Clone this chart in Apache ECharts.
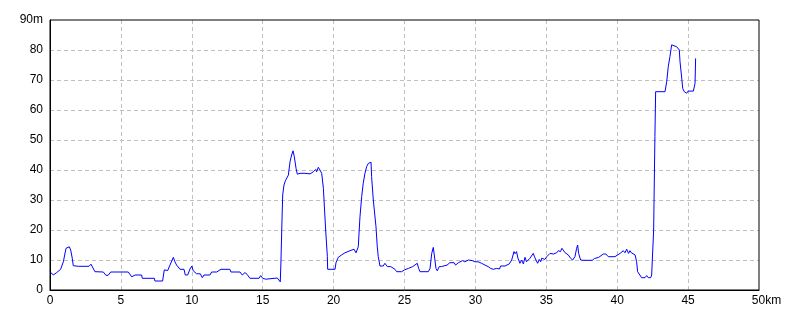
<!DOCTYPE html>
<html>
<head>
<meta charset="utf-8">
<script src="https://cdn.jsdelivr.net/npm/echarts@6/dist/echarts.min.js"></script>
<style>html,body{margin:0;padding:0;background:#fff}#c{width:800px;height:320px}</style>
</head>
<body>
<div id="c"></div>
<script>
const distKm = [0,0.23,0.47,0.6,0.75,0.94,1.13,1.25,1.36,1.46,1.57,1.64,1.76,2.0,2.75,2.89,3.0,3.17,3.76,3.95,4.1,4.28,4.65,4.77,4.94,5.52,5.76,6.0,6.46,6.51,7.36,7.4,7.94,8.06,8.2,8.3,8.46,8.7,8.81,8.93,9.17,9.45,9.54,9.71,9.87,10.0,10.1,10.2,10.34,10.6,10.74,10.86,11.28,11.4,11.75,11.8,12.06,12.69,12.76,13.4,13.56,13.75,13.9,14.1,14.74,14.86,15.0,15.21,16.03,16.24,16.29,16.36,16.41,16.5,16.6,16.81,16.93,17.04,17.14,17.23,17.35,17.44,17.63,17.98,18.1,18.34,18.57,18.74,18.8,18.92,19.04,19.16,19.28,19.44,19.56,19.58,20.1,20.17,20.33,20.57,20.8,20.9,21.16,21.3,21.44,21.58,21.67,21.74,21.86,21.98,22.09,22.21,22.33,22.45,22.64,22.68,22.8,22.99,23.08,23.15,23.27,23.5,23.62,23.79,23.9,24.03,24.17,24.33,24.45,24.8,25.0,25.27,25.4,25.58,25.7,25.9,26.0,26.09,26.68,26.8,26.92,27.03,27.1,27.22,27.31,27.45,27.6,27.73,28.0,28.2,28.3,28.5,28.6,28.8,28.9,29.1,29.25,29.5,29.78,29.97,30.2,30.44,30.68,30.9,31.08,31.26,31.5,31.7,31.78,32.09,32.39,32.56,32.72,32.8,32.9,33.0,33.14,33.26,33.38,33.5,33.6,33.73,33.85,33.97,34.08,34.15,34.27,34.39,34.5,34.6,34.68,34.9,35.03,35.15,35.26,35.38,35.5,35.61,35.73,35.85,36.0,36.1,36.2,36.33,36.55,36.71,36.86,37.02,37.14,37.21,37.28,37.42,37.6,38.24,38.4,38.5,38.7,38.83,39.02,39.2,39.37,39.84,39.96,40.2,40.43,40.55,40.67,40.8,40.9,41.0,41.26,41.37,41.44,41.6,41.72,41.96,42.08,42.19,42.36,42.43,42.54,42.57,42.66,42.71,43.37,43.49,43.6,43.72,43.84,43.96,44.19,44.38,44.43,44.55,44.62,44.73,44.9,45.0,45.1,45.37,45.49,45.53];
const elevM = [6.1,5.0,5.8,5.8,6.9,9.4,13.9,14.4,14.4,13.3,10.6,8.1,8.6,7.9,7.9,8.6,8.1,6.1,6.0,4.9,4.9,6.0,6.0,6.6,6.0,6.0,4.4,5.0,5.0,3.9,3.9,3.0,3.0,6.7,6.5,6.5,8.3,10.9,9.4,8.3,6.9,6.9,5.0,5.0,7.0,8.0,6.4,6.4,5.4,5.4,4.1,5.0,5.0,6.0,6.0,5.6,6.9,6.9,6.0,6.0,5.0,5.8,5.2,3.9,3.9,4.8,3.9,3.6,4.0,2.7,10,23.3,31.7,35,36.4,38.3,42.8,45,46.4,44.4,40.6,38.6,38.9,38.9,38.7,38.7,39.4,40.2,39.4,40.9,40,38.9,33.9,20,11.1,6.9,6.9,9.1,10.9,11.7,12.4,12.2,13.1,12.8,13.6,12.4,12,14.4,24.4,31.1,35.6,38.9,41.1,42.2,42.6,37.8,30,21.1,14.4,11.1,8.0,8.0,8.9,7.8,7.6,7.8,7.2,6.9,6.1,6.1,6.7,7.2,6.9,7.8,7.2,8.9,7.2,6.1,6.1,7.2,12.2,14.2,11.7,7.2,6.4,7.8,7.8,8.3,8.3,9.1,8.7,9.1,8.3,9.1,8.7,9.8,9.4,10,9.8,9.4,9.4,8.9,8.3,7.8,7.2,6.9,7.2,7.0,8.0,8.0,8.7,10,12.8,12.1,12.8,10.6,8.9,10,8.7,10.9,9.4,8.9,10.6,10.9,12.2,11.3,10,8.9,10.2,9.4,10.6,10.2,11.1,10.9,12.2,11.7,12,12.6,12.4,13.1,12.8,13.9,13.6,12.4,11.7,10.6,10,11.1,13.9,15,12.2,10,9.9,9.9,10.5,11.1,10.9,11.3,12,12,11.1,11.1,11.7,12.2,13.1,12.4,13.6,12.2,13.1,12.4,11.7,9.4,6.1,5.0,4.1,4.1,4.8,4.1,4.1,5.0,5.0,20,51.1,66.1,66.1,69.4,74.4,77.8,81.7,81.3,81.1,80,76.1,70.6,67.2,66.1,65.6,66.3,65.8,66.3,68.9,77.2];
const xMax = 50, xStep = 5, xUnit = 'km';
const yMax = 90, yStep = 10, yUnit = 'm';

const chart = echarts.init(document.getElementById('c'), null, {renderer: 'canvas'});
const FONT = "'Liberation Sans', sans-serif";
const grid = {type: [4, 3], color: '#c0c0c0', width: 1};
chart.setOption({
  animation: false,
  backgroundColor: '#ffffff',
  grid: {left: 50, right: 41, top: 20, bottom: 30, show: true, borderColor: '#000', borderWidth: 1, backgroundColor: 'transparent', z: 3},
  xAxis: {
    type: 'value', min: 0, max: xMax, interval: xStep,
    axisLine: {show: true, onZero: false, lineStyle: {color: '#000', width: 1}},
    axisTick: {show: false},
    splitLine: {show: true, showMinLine: false, showMaxLine: false, lineStyle: grid},
    axisLabel: {
      margin: 5, color: '#000', fontFamily: FONT, fontSize: 12,
      formatter: v => v === xMax ? '{p|}' + v + '{u|' + xUnit + '}' : String(v),
      rich: {p: {width: 15, fontFamily: FONT, fontSize: 12}, u: {fontFamily: FONT, fontSize: 12, color: '#000'}}
    }
  },
  yAxis: {
    type: 'value', min: 0, max: yMax, interval: yStep,
    axisLine: {show: true, lineStyle: {color: '#000', width: 1}},
    axisTick: {show: false},
    splitLine: {show: true, showMinLine: false, showMaxLine: false, lineStyle: grid},
    axisLabel: {
      margin: 7, color: '#000', fontFamily: FONT, fontSize: 12,
      formatter: v => v === yMax ? v + yUnit : String(v)
    }
  },
  series: [{
    type: 'line',
    data: distKm.map((d, i) => [d, elevM[i]]),
    showSymbol: false,
    symbol: 'none',
    lineStyle: {color: '#0000ff', width: 1},
    silent: true
  }]
});
</script>
</body>
</html>
